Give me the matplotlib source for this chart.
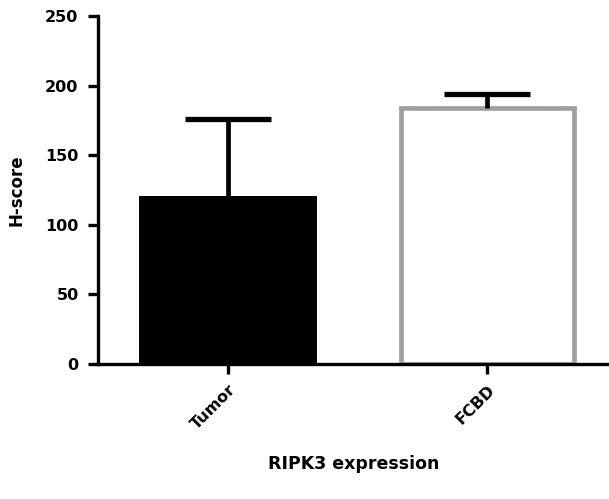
import numpy as np
from matplotlib import pyplot as plt

categories = ['Tumor', 'FCBD']
means = [121, 184]
errors = [55, 10]
yticks = [0, 50, 100, 150, 200, 250]

plt.rcParams['font.family'] = ['DejaVu Sans']
plt.rcParams['font.weight'] = 'bold'

fig = plt.figure(figsize=(6.09, 4.99), dpi=100)
ax = fig.add_axes([0.161, 0.2705, 0.839, 0.6975])

x = np.arange(len(categories))
width = 0.687
ax.bar(x[0], means[0], width, color='black', edgecolor='black', linewidth=0)
ax.bar(x[1], means[1], width - 0.018, color='white', edgecolor='#a0a0a4', linewidth=3.4)

# upper error bars only (stem + cap)
cap_half = 0.167
for xi, m, e in zip(x, means, errors):
    ax.vlines(xi, m, m + e, color='black', linewidth=3.4, zorder=3)
    ax.hlines(m + e, xi - cap_half, xi + cap_half, color='black', linewidth=3.8, zorder=3)

ax.set_xlim(-0.502, 1.47)
ax.set_ylim(0, 250)
ax.set_yticks(yticks)
ax.set_xticks(x)
ax.set_xticklabels(categories, rotation=45, ha='right', rotation_mode='anchor')
ax.tick_params(axis='y', width=2.4, length=7, labelsize=11.5, pad=7)
ax.tick_params(axis='x', width=2.4, length=7, labelsize=11.5, pad=6)
for sp in ['top', 'right']:
    ax.spines[sp].set_visible(False)
for sp in ['left', 'bottom']:
    ax.spines[sp].set_linewidth(2.4)

ax.set_ylabel('H-score', fontsize=12, fontweight='bold', labelpad=14)
ax.set_xlabel('RIPK3 expression', fontsize=12.5, fontweight='bold', labelpad=16)

plt.savefig('out.png', dpi=100)
